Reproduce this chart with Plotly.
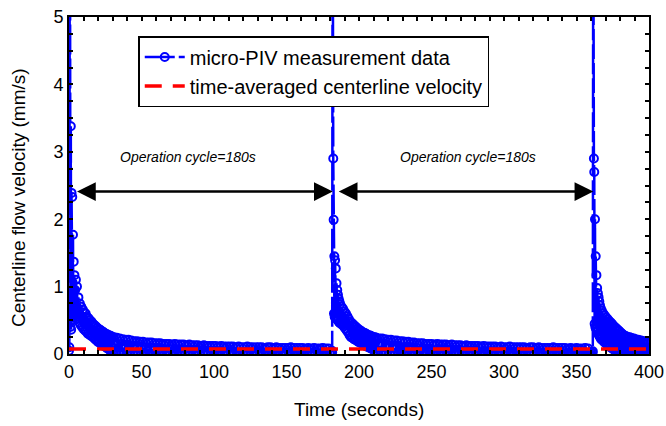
import plotly.graph_objects as go

# ---------------- data ----------------
# Each segment: start time (s), sampling step (s), measured centerline velocities (mm/s)
c1_a = [0.05, 0.1, 6.0, 5.4, 0.4, 3.38, 0.36, 2.39, 0.6, 2.33, 0.5, 1.77, 0.55, 1.37,
        0.6, 1.17, 0.58, 0.95, 0.55, 1.1, 0.52]
c1_b = [1.0, 0.52, 0.84, 0.47, 0.75, 0.43, 0.7, 0.4, 0.66, 0.37, 0.62, 0.35, 0.6, 0.33,
        0.55, 0.3, 0.53, 0.29, 0.5, 0.27, 0.48, 0.26, 0.45, 0.24, 0.43, 0.22, 0.41, 0.2,
        0.39, 0.18, 0.37, 0.17, 0.36, 0.15, 0.34, 0.14, 0.33, 0.12, 0.31, 0.11, 0.3, 0.09,
        0.29, 0.08, 0.28, 0.06, 0.27, 0.05, 0.26, 0.04]
c1_c = [0.25, 0.03, 0.24, 0.02, 0.23, 0.03, 0.22, 0.02, 0.21, 0.01, 0.21, 0.02, 0.2, 0.01,
        0.19, 0.02, 0.19, 0.01, 0.18, 0.0, 0.18, 0.01, 0.17, 0.0, 0.17, 0.01, 0.17, 0.0,
        0.16, 0.01]
c1_d = [0.16, 0.0, 0.16, 0.01, 0.15, 0.0, 0.15, 0.02, 0.15, 0.0, 0.14, 0.01, 0.15, 0.0, 0.14, 0.01, 0.14, 0.0, 0.14, 0.01,
        0.13, 0.0, 0.14, 0.01, 0.13, 0.0, 0.13, 0.02, 0.13, 0.0, 0.12, 0.01, 0.13, 0.0, 0.12, 0.01, 0.12, 0.0, 0.12, 0.01,
        0.12, 0.0, 0.11, 0.01, 0.12, 0.0, 0.11, 0.02, 0.11, 0.0, 0.11, 0.01, 0.11, 0.0, 0.1, 0.01, 0.11, 0.0, 0.1, 0.01,
        0.1, 0.0, 0.11, 0.01, 0.1, 0.0, 0.1, 0.02, 0.1, 0.0, 0.1, 0.01, 0.1, 0.0, 0.09, 0.01, 0.1, 0.0, 0.1, 0.01,
        0.09, 0.0, 0.1, 0.01, 0.09, 0.0, 0.09, 0.02, 0.09, 0.0, 0.09, 0.01, 0.1, 0.0, 0.09, 0.01, 0.09, 0.0, 0.09, 0.01,
        0.09, 0.0, 0.08, 0.01, 0.09, 0.0, 0.08, 0.02, 0.09, 0.0, 0.08, 0.01, 0.08, 0.0, 0.09, 0.01, 0.08, 0.0, 0.08, 0.01]
c2_a = [0.02, 0.05, 0.03, 6.0, 5.5, 2.9, 1.99, 0.6, 1.45, 0.55, 1.39, 0.6, 1.27, 0.55,
        1.05, 0.52, 0.95, 0.5, 0.88, 0.5, 0.82, 0.47, 0.78, 0.46, 0.74]
c2_b = [0.45, 0.7, 0.43, 0.67, 0.41, 0.63, 0.38, 0.6, 0.35, 0.56, 0.32, 0.52, 0.28, 0.48,
        0.25, 0.46, 0.24, 0.44, 0.22, 0.42, 0.21, 0.4, 0.2, 0.38, 0.18, 0.36, 0.17, 0.35,
        0.16, 0.33, 0.15, 0.32, 0.14, 0.31, 0.12, 0.3, 0.11, 0.28, 0.1, 0.28, 0.09, 0.27,
        0.08, 0.26, 0.07, 0.25, 0.05, 0.25, 0.04, 0.24]
c2_c = [0.03, 0.23, 0.02, 0.23, 0.03, 0.22, 0.02, 0.21, 0.01, 0.21, 0.02, 0.2, 0.01, 0.2,
        0.0, 0.19, 0.01, 0.19, 0.0, 0.18, 0.01, 0.18, 0.0, 0.17, 0.01, 0.17, 0.0, 0.16,
        0.01, 0.16]
c2_d = [0.0, 0.16, 0.01, 0.15, 0.0, 0.15, 0.02, 0.15, 0.0, 0.14, 0.01, 0.15, 0.0, 0.14, 0.01, 0.14, 0.0, 0.14, 0.01, 0.13,
        0.0, 0.14, 0.01, 0.13, 0.0, 0.13, 0.02, 0.13, 0.0, 0.12, 0.01, 0.13, 0.0, 0.12, 0.01, 0.12, 0.0, 0.12, 0.01, 0.12,
        0.0, 0.11, 0.01, 0.12, 0.0, 0.11, 0.02, 0.11, 0.0, 0.11, 0.01, 0.11, 0.0, 0.1, 0.01, 0.11, 0.0, 0.1, 0.01, 0.1,
        0.0, 0.11, 0.01, 0.1, 0.0, 0.1, 0.02, 0.1, 0.0, 0.1, 0.01, 0.1, 0.0, 0.09, 0.01, 0.1, 0.0, 0.1, 0.01, 0.09,
        0.0, 0.1, 0.01, 0.09, 0.0, 0.09, 0.02, 0.09, 0.0, 0.09, 0.01, 0.1, 0.0, 0.09, 0.01, 0.09, 0.0, 0.09, 0.01, 0.09,
        0.0, 0.08, 0.01, 0.09, 0.0, 0.08, 0.02, 0.09, 0.0, 0.08, 0.01, 0.08, 0.0, 0.09, 0.01, 0.08, 0.0, 0.02]
c3_a = [0.02, 0.04, 6.0, 5.3, 2.9, 2.7, 0.45, 2.0, 0.4, 1.45, 0.38, 1.17, 0.35, 0.98,
        0.33, 0.9, 0.3, 0.84, 0.28, 0.78, 0.26, 0.72, 0.24, 0.68, 0.22]
c3_b = [0.64, 0.2, 0.6, 0.18, 0.57, 0.16, 0.54, 0.14, 0.52, 0.12, 0.49, 0.11, 0.47, 0.09,
        0.45, 0.08, 0.42, 0.06, 0.4, 0.05, 0.38, 0.04, 0.36, 0.03, 0.34, 0.02, 0.32, 0.01,
        0.3, 0.01, 0.28, 0.0, 0.27, 0.01, 0.26, 0.0, 0.25, 0.01, 0.25, 0.0, 0.24, 0.01,
        0.23, 0.0, 0.23, 0.01, 0.22, 0.0, 0.21, 0.01, 0.21, 0.0, 0.2, 0.01, 0.2, 0.0, 0.19,
        0.01, 0.19, 0.0, 0.18, 0.01, 0.18, 0.0, 0.17, 0.01]

segments = [
    (0.0, 0.25, c1_a), (5.5, 0.5, c1_b), (31.0, 1.0, c1_c), (61.0, 1.0, c1_d),
    (181.0, 0.25, c2_a), (187.5, 0.5, c2_b), (213.0, 1.0, c2_c), (243.0, 1.0, c2_d),
    (361.0, 0.25, c3_a), (367.5, 0.5, c3_b),
]

avg_time = [0, 400]
avg_velocity = [0.075, 0.075]

cycle_label = "Operation cycle=180s"
arrow_spans = [(4.5, 181.9), (185.0, 361.6)]
arrow_level = 2.41
label_pos = [(82.0, 2.92), (275.5, 2.92)]

# ---------------- assemble the sampled series ----------------
piv_time, piv_vel = [], []
for t0, step, vals in segments:
    for i, v in enumerate(vals):
        piv_time.append(round(t0 + i * step, 3))
        piv_vel.append(v)

FONT = "Liberation Sans, Arial, sans-serif"
X_RANGE = [0, 400]
Y_RANGE = [0, 5]

fig = go.Figure()
fig.add_trace(go.Scatter(
    x=piv_time, y=piv_vel, mode="lines+markers",
    name="micro-PIV measurement data",
    line=dict(color="#0000ff", width=2.5, dash="30px,4px"),
    marker=dict(symbol="circle-open", size=8, color="#0000ff",
                line=dict(width=2, color="#0000ff")),
))
# time-average drawn on an overlaid (identical, hidden) axis pair so it sits on top
fig.add_trace(go.Scatter(
    x=avg_time, y=avg_velocity, mode="lines", xaxis="x2", yaxis="y2",
    name="time-averaged centerline velocity",
    line=dict(color="#ff0000", width=3.5, dash="17px,11px"),
))

for (a, b) in arrow_spans:
    fig.add_annotation(x=b, y=arrow_level, ax=a, ay=arrow_level,
                       xref="x", yref="y", axref="x", ayref="y",
                       text="", showarrow=True, arrowside="end+start",
                       arrowhead=2, arrowsize=1.5, arrowwidth=2.5, arrowcolor="black",
                       standoff=0, startstandoff=0)
for (tx, ty) in label_pos:
    fig.add_annotation(x=tx, y=ty, xref="x", yref="y", text=cycle_label, showarrow=False,
                       font=dict(family=FONT, size=14, color="black", style="italic"))

fig.add_annotation(x=0.5, y=-0.165, xref="paper", yref="paper",
                   xanchor="center", yanchor="middle",
                   text="Time (seconds)", showarrow=False,
                   font=dict(family=FONT, size=19, color="black"))
fig.add_annotation(x=-0.086, y=0.463, xref="paper", yref="paper",
                   xanchor="center", yanchor="middle", textangle=-90,
                   text="Centerline flow velocity (mm/s)", showarrow=False,
                   font=dict(family=FONT, size=19, color="black"))

axis_common = dict(showline=True, linewidth=2, linecolor="black", mirror="allticks",
                   ticks="inside", ticklen=4, tickwidth=1.5, tickcolor="black",
                   showgrid=False, zeroline=False, automargin=False,
                   tickfont=dict(family=FONT, size=18, color="black"))
fig.update_xaxes(range=X_RANGE, dtick=50, tick0=0,
                 minor=dict(dtick=10, ticks="inside", ticklen=4, tickcolor="black", tickwidth=1.5),
                 **axis_common)
fig.update_yaxes(range=Y_RANGE, dtick=1, tick0=0,
                 minor=dict(dtick=0.25, ticks="inside", ticklen=4, tickcolor="black", tickwidth=1.5),
                 **axis_common)

fig.update_layout(
    width=666, height=426,
    margin=dict(l=69, r=17, t=17, b=72, autoexpand=False),
    paper_bgcolor="white", plot_bgcolor="white",
    showlegend=True,
    xaxis2=dict(overlaying="x", anchor="y2", range=X_RANGE, visible=False, showgrid=False,
                zeroline=False, automargin=False),
    yaxis2=dict(overlaying="y", anchor="x2", range=Y_RANGE, visible=False, showgrid=False,
                zeroline=False, automargin=False),
    legend=dict(x=0.1194, y=0.9436, xanchor="left", yanchor="top",
                bgcolor="white", bordercolor="black", borderwidth=1.5,
                font=dict(family=FONT, size=20, color="black"),
                tracegroupgap=0, itemwidth=40),
)

fig.write_html("out.html")
